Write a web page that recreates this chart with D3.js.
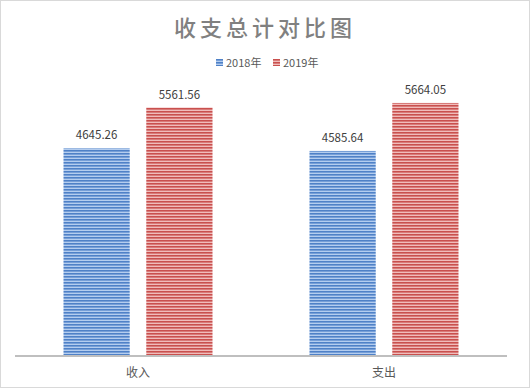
<!DOCTYPE html>
<html>
<head>
<meta charset="utf-8">
<script src="https://cdn.jsdelivr.net/npm/d3@7"></script>
<style>
  body { margin: 0; background: #fff; }
  text { font-family: "Noto Sans CJK SC", "Noto Sans", sans-serif; }
</style>
</head>
<body>
<script>
// data
var categories = ["收入", "支出"];
var seriesNames = ["2018年", "2019年"];
var values2018 = [4645.26, 4585.64];
var values2019 = [5561.56, 5664.05];

var W = 530, H = 388;
var plot = {left: 15, right: 507, top: 88, bottom: 355};

var svg = d3.select("body").append("svg")
    .attr("width", W)
    .attr("height", H);

// stripe patterns
var defs = svg.append("defs");
var stripeColors = [
  {id: "p2018", dark: "#4f81c7", light: "#b4cdef"},
  {id: "p2019", dark: "#c9504e", light: "#f0bcbb"}
];
stripeColors.forEach(function(c) {
  var p = defs.append("pattern")
      .attr("id", c.id)
      .attr("patternUnits", "userSpaceOnUse")
      .attr("width", 4)
      .attr("height", 3);
  p.append("rect").attr("width", 4).attr("height", 3).attr("fill", c.light);
  p.append("rect").attr("width", 4).attr("height", 1.6).attr("fill", c.dark);
});

// outer border
svg.append("rect")
    .attr("x", 0.5).attr("y", 0.5)
    .attr("width", W - 1).attr("height", H - 1)
    .attr("fill", "#fff")
    .attr("stroke", "#d9d9d9");

// title
svg.append("text")
    .attr("x", 265)
    .attr("y", 36)
    .attr("text-anchor", "middle")
    .attr("fill", "#808080")
    .style("font-size", "22px")
    .style("font-weight", "500")
    .style("letter-spacing", "4px")
    .text("收支总计对比图");

// scales
var x0 = d3.scaleBand()
    .domain(categories)
    .range([plot.left, plot.right]);

var x1 = d3.scaleBand()
    .domain(seriesNames)
    .range([0, 149])
    .paddingInner(0.2);

var y = d3.scaleLinear()
    .domain([0, 6000])
    .range([plot.bottom, plot.top]);

var rows = categories.map(function(c, i) {
  return {cat: c, vals: [
    {name: seriesNames[0], v: values2018[i], fill: "url(#p2018)"},
    {name: seriesNames[1], v: values2019[i], fill: "url(#p2019)"}
  ]};
});

var groups = svg.selectAll(".grp")
    .data(rows)
  .enter().append("g")
    .attr("class", "grp")
    .attr("transform", function(d) {
      return "translate(" + (x0(d.cat) + x0.bandwidth() / 2 - 74.5) + ",0)";
    });

groups.selectAll("rect")
    .data(function(d) { return d.vals; })
  .enter().append("rect")
    .attr("x", function(d) { return x1(d.name); })
    .attr("y", function(d) { return y(d.v); })
    .attr("width", x1.bandwidth())
    .attr("height", function(d) { return y(0) - y(d.v); })
    .attr("fill", function(d) { return d.fill; });

groups.selectAll(".lbl")
    .data(function(d) { return d.vals; })
  .enter().append("text")
    .attr("class", "lbl")
    .attr("x", function(d) { return x1(d.name) + x1.bandwidth() / 2; })
    .attr("y", function(d) { return y(d.v) - 9; })
    .attr("text-anchor", "middle")
    .attr("fill", "#404040")
    .style("font-size", "11.5px")
    .text(function(d) { return d.v.toFixed(2); });

// x axis line
svg.append("line")
    .attr("x1", plot.left).attr("x2", plot.right)
    .attr("y1", plot.bottom + 1).attr("y2", plot.bottom + 1)
    .attr("stroke", "#bfbfbf")
    .attr("stroke-width", 2);

// category labels
svg.selectAll(".cat")
    .data(categories)
  .enter().append("text")
    .attr("class", "cat")
    .attr("x", function(d) { return x0(d) + x0.bandwidth() / 2; })
    .attr("y", 377)
    .attr("text-anchor", "middle")
    .attr("fill", "#595959")
    .style("font-size", "12px")
    .text(function(d) { return d; });

// legend
var legendX = [216, 273];
var legend = svg.selectAll(".legend")
    .data(seriesNames)
  .enter().append("g")
    .attr("class", "legend")
    .attr("transform", function(d, i) { return "translate(" + legendX[i] + ",59)"; });

legend.append("rect")
    .attr("width", 7)
    .attr("height", 7)
    .attr("fill", function(d, i) { return i === 0 ? "url(#p2018)" : "url(#p2019)"; });

legend.append("text")
    .attr("x", 10)
    .attr("y", 8)
    .attr("fill", "#595959")
    .style("font-size", "11px")
    .text(function(d) { return d; });
</script>
</body>
</html>
